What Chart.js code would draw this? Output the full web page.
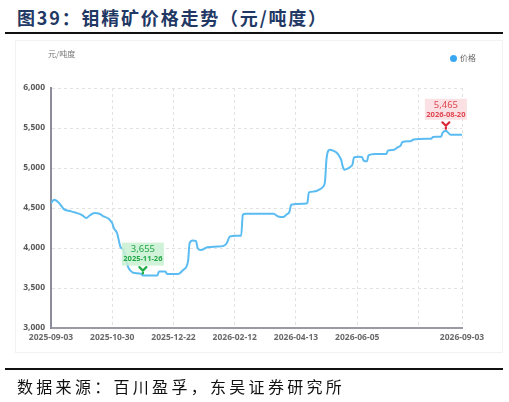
<!DOCTYPE html>
<html>
<head>
<meta charset="utf-8">
<script src="https://cdn.jsdelivr.net/npm/chart.js@4/dist/chart.umd.min.js"></script>
<style>
  body { margin: 0; width: 509px; height: 402px; background: #fff; position: relative; overflow: hidden; }
  #title { position: absolute; left: 17px; top: 4px; font: bold 18px "Noto Sans CJK SC"; color: #1f3864; letter-spacing: 1.8px; white-space: nowrap; }
  .rule { position: absolute; left: 5px; width: 498px; height: 2px; background: #111; }
  #panel { position: absolute; left: 15px; top: 40px; width: 486px; height: 311px; border: 1px solid #f2f2f2; }
  #wrap { position: absolute; left: 0; top: 0; width: 509px; height: 402px; }
  #unit { position: absolute; left: 48px; top: 48px; font: 8px "Noto Sans CJK SC"; color: #777; }
  #legend { position: absolute; left: 450px; top: 52px; font: 8px "Noto Sans CJK SC"; color: #666; }
  #legend .dot { display: inline-block; width: 7px; height: 7px; border-radius: 50%; background: #3aa8f0; margin-right: 3px; vertical-align: -1px; }
  #source { position: absolute; left: 17px; top: 374px; font: 16px "Noto Sans CJK SC"; color: #111; letter-spacing: 3.3px; white-space: nowrap; }
</style>
</head>
<body>
<div id="title">图39：钼精矿价格走势（元/吨度）</div>
<div class="rule" style="top:32px"></div>
<div id="panel"></div>
<div id="wrap"><canvas id="chart" width="509" height="402"></canvas></div>
<div id="unit">元/吨度</div>
<div id="legend"><span class="dot"></span>价格</div>
<div class="rule" style="top:368px"></div>
<div id="source">数据来源：百川盈孚，东吴证券研究所</div>

<script>
// trading-day index (0 = 2025-09-03) and price
const tradingDay = [0, 2, 5, 8, 11, 15, 19, 22, 24, 27, 30, 32, 36, 38, 39, 41, 42, 43, 45, 46, 48, 50, 51,
  56, 57, 66, 67, 71, 72, 79, 82, 85, 86, 88, 90, 91, 93, 97, 103, 107, 109, 111, 115, 118, 119, 121,
  138, 141, 144, 146, 148, 149, 157, 159, 160, 163, 167, 169, 170, 171, 173, 175, 178, 180, 181, 182,
  184, 186, 187, 188, 191, 193, 194, 196, 197, 201, 208, 209, 213, 215, 217, 218, 223, 225, 233, 236,
  237, 242, 243, 245, 246, 248, 255];
const price = [4560, 4603, 4562, 4486, 4465, 4444, 4415, 4374, 4406, 4436, 4428, 4403, 4361, 4310, 4248, 4186, 4102, 4018, 3976, 3900, 3755, 3705, 3690,
  3676, 3655, 3655, 3705, 3705, 3676, 3676, 3726, 3830, 4060, 4093, 4085, 3998, 3976, 4010, 4018, 4027, 4060, 4143, 4152, 4152, 4415, 4428,
  4428, 4394, 4386, 4415, 4456, 4540, 4553, 4560, 4694, 4705, 4737, 4770, 4832, 5125, 5229, 5217, 5175, 5104, 5020, 4979,
  4991, 5020, 5041, 5133, 5142, 5135, 5092, 5083, 5158, 5175, 5175, 5217, 5229, 5258, 5283, 5326, 5334, 5355, 5367, 5367,
  5389, 5392, 5440, 5465, 5450, 5417, 5417];

const tickDays = [0, 38, 76, 114, 152, 190, 228, 255];
const tickLabels = ['2025-09-03', '2025-10-30', '2025-12-22', '2026-02-12', '2026-04-13', '2026-06-05', '', '2026-09-03'];

// min / max callouts
const markDays = [57, 245];
const markPrices = [3655, 5465];
const markDates = ['2025-11-26', '2026-08-20'];

const markStyles = [
  { box: 'rgba(200,240,210,0.85)', text: '#22a845', pin: '#1fae48', top: 33, bottom: 10 },
  { box: 'rgba(250,220,222,0.85)', text: '#e0464f', pin: '#d8283a', top: 32, bottom: 11 }
];

const calloutPlugin = {
  id: 'callouts',
  afterDatasetsDraw(chart) {
    const ctx = chart.ctx;
    const xs = chart.scales.x, ys = chart.scales.y;
    markDays.forEach((d, i) => {
      const st = markStyles[i];
      const px = xs.getPixelForValue(d);
      const py = ys.getPixelForValue(markPrices[i]);
      ctx.save();
      // box
      ctx.fillStyle = st.box;
      ctx.fillRect(px - 21, py - st.top, 42, st.top - st.bottom);
      ctx.fillStyle = st.text;
      ctx.textAlign = 'center';
      ctx.textBaseline = 'middle';
      ctx.font = '9.5px "Noto Sans"';
      ctx.fillText(markPrices[i].toLocaleString('en-US'), px, py - st.top + 6.5);
      ctx.font = 'bold 7.5px "Noto Sans"';
      ctx.fillText(markDates[i], px, py - st.top + 16);
      // pin
      ctx.strokeStyle = st.pin;
      ctx.lineWidth = 2.2;
      ctx.lineCap = 'round';
      ctx.beginPath();
      ctx.moveTo(px - 3.5, py - 8.5);
      ctx.lineTo(px, py - 5);
      ctx.lineTo(px + 3.5, py - 8.5);
      ctx.moveTo(px, py - 5);
      ctx.lineTo(px, py - 2);
      ctx.stroke();
      ctx.restore();
    });
  }
};

new Chart(document.getElementById('chart'), {
  type: 'line',
  data: {
    datasets: [{
      label: '价格',
      data: tradingDay.map((d, i) => ({ x: d, y: price[i] })),
      borderColor: '#5bbcf2',
      borderWidth: 2,
      pointRadius: 0,
      cubicInterpolationMode: 'monotone',
      fill: false
    }]
  },
  options: {
    responsive: false,
    animation: false,
    layout: { padding: { left: 0, top: 88, right: 47, bottom: 54 } },
    plugins: { legend: { display: false }, tooltip: { enabled: false } },
    scales: {
      x: {
        type: 'linear',
        min: 0,
        max: 255,
        afterBuildTicks: s => { s.ticks = tickDays.map(v => ({ value: v })); },
        afterFit: s => { s.height = 20; },
        grid: { color: '#e2e2e2', drawTicks: false },
        border: { color: '#9a9aa4', width: 2, dash: [3, 3] },
        ticks: {
          autoSkip: false,
          maxRotation: 0,
          padding: 4,
          color: '#6a6a6a',
          font: { family: 'Noto Sans', size: 8.5, weight: 'bold' },
          callback: (v) => tickLabels[tickDays.indexOf(v)]
        }
      },
      y: {
        min: 3000,
        max: 6000,
        afterFit: s => { s.width = 51; },
        grid: { color: '#e2e2e2', drawTicks: false },
        border: { color: '#8c8c9c', width: 2, dash: [3, 3] },
        ticks: {
          stepSize: 500,
          padding: 6,
          color: '#5a5a5a',
          font: { family: 'Noto Sans', size: 8.5, weight: 'bold' },
          callback: v => v.toLocaleString('en-US')
        }
      }
    }
  },
  plugins: [calloutPlugin]
});
</script>
</body>
</html>
